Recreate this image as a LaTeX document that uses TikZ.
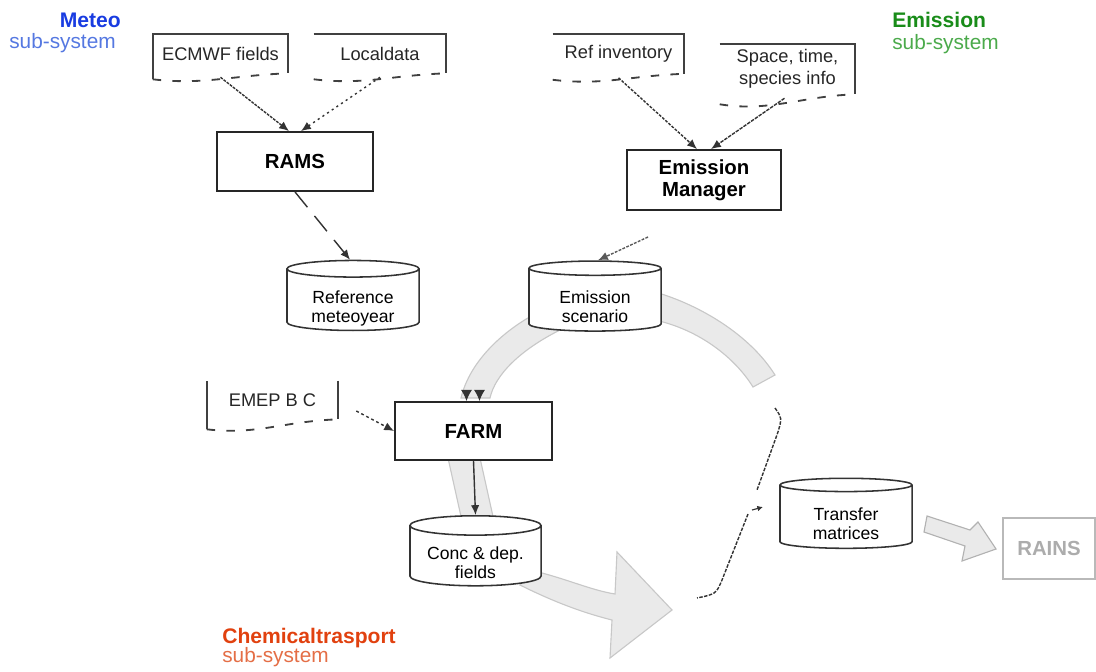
\documentclass[tikz,border=0pt]{standalone}
\usepackage{fontspec}
\setmainfont{Liberation Sans}
\usetikzlibrary{shapes.geometric, arrows.meta}

\definecolor{meteoblue}{RGB}{25,60,225}
\definecolor{meteolight}{RGB}{85,120,225}
\definecolor{emisgreen}{RGB}{25,140,25}
\definecolor{emislight}{RGB}{75,170,75}
\definecolor{chemred}{RGB}{225,65,15}
\definecolor{chemlight}{RGB}{228,110,70}
\definecolor{ringfill}{RGB}{234,234,234}
\definecolor{ringline}{RGB}{200,200,200}

\newcommand{\storelabel}[1]{\raisebox{-9.5pt}[0pt][0pt]{\begin{tabular}{@{}c@{}}#1\end{tabular}}}

\begin{document}
\begin{tikzpicture}[x=0.025cm, y=-0.025cm, >={Latex[length=7pt,width=6pt]},
    model/.style={draw=black!85, line width=1.3pt, fill=white, align=center,
        font=\fontsize{14.5}{15.6}\selectfont\bfseries},
    store/.style={cylinder, shape border rotate=90, aspect=0.2, draw=black!80,
        line width=1.1pt, fill=white, inner sep=0pt,
        minimum width=3.3cm, minimum height=1.75cm,
        font=\fontsize{12.5}{13.5}\selectfont},
    source/.style={inner sep=0pt, align=center, text=black!85,
        font=\fontsize{13}{15.6}\selectfont},
    docedge/.style={draw=black!75, line width=1.3pt},
    docwave/.style={docedge, dash pattern=on 6pt off 8pt},
    systitle/.style={inner sep=0pt, anchor=base west, font=\fontsize{15}{17}\selectfont\bfseries},
    syssub/.style={inner sep=0pt, anchor=base west, font=\fontsize{14.8}{17}\selectfont},
    ring/.style={fill=ringfill, draw=ringline, line width=0.8pt},
    link/.style={->, line width=1pt, black!80},
]
\useasboundingbox (0,0) rectangle (1096,671);

% sub-system titles
\node[systitle, anchor=base east, text=meteoblue] (meteo) at (121,27) {Meteo};
\node[syssub, text=meteolight] (meteosub) at (9,48) {sub-system};
\node[systitle, text=emisgreen] (emis) at (892,27) {Emission};
\node[syssub, text=emislight] (emissub) at (892,49) {sub-system};
\node[systitle, text=chemred] (chem) at (222,643) {Chemicaltrasport};
\node[syssub, text=chemlight] (chemsub) at (222,662) {sub-system};

% grey cycle
\filldraw[ring] (535,314) .. controls (505,330) and (470,360) .. (461,398)
    -- (490,398) .. controls (495,375) and (520,350) .. (560,330) -- cycle;
\filldraw[ring] (655,292) .. controls (700,305) and (750,335) .. (775,375)
    -- (753,387) .. controls (735,358) and (700,330) .. (655,320) -- cycle;
\filldraw[ring] (448,458) -- (480,458) -- (494,521) -- (462,521) -- cycle;
\filldraw[ring] (530,570) .. controls (565,578) and (590,590) .. (615,594)
    -- (617,552) -- (672,610) -- (610,658) -- (612,620)
    .. controls (580,612) and (550,600) .. (520,585) -- cycle;
\filldraw[ring, draw=gray!60] (927,516) -- (970,530) -- (978,522) -- (996,549)
    -- (962,561) -- (965,546) -- (924,532) -- cycle;

% input data
\node[source, minimum width=3.375cm, minimum height=0.975cm] (ecmwf) at (220.5,53.5) {ECMWF fields};
\node[source, minimum width=3.3cm, minimum height=0.975cm] (local) at (380,53.5) {Localdata};
\node[source, minimum width=3.275cm, minimum height=0.975cm] (refinv) at (618.5,54) {Ref inventory};
\node[source, minimum width=3.375cm, minimum height=1.25cm] (space) at (787.5,69) {Space, time,\\species info};
\node[source, minimum width=3.275cm, minimum height=0.95cm] (emep) at (272.5,400) {EMEP B C};

\draw[docedge] (ecmwf.south west) ++(0,6) -- (ecmwf.north west) -- (ecmwf.north east) -- (ecmwf.south east);
\draw[docwave] ([shift={(0,6)}]ecmwf.south west) .. controls +(50,6) and +(-55,2) .. (ecmwf.south east);
\draw[docedge] (local.north west) -- (local.north east) -- (local.south east);
\draw[docwave] ([shift={(0,6)}]local.south west) .. controls +(50,6) and +(-55,2) .. (local.south east);
\draw[docedge] (refinv.north west) -- (refinv.north east) -- (refinv.south east);
\draw[docwave] ([shift={(0,6)}]refinv.south west) .. controls +(50,6) and +(-55,2) .. (refinv.south east);
\draw[docedge] (space.north west) -- (space.north east) -- (space.south east);
\draw[docwave] ([shift={(0,10)}]space.south west) .. controls +(50,8) and +(-55,2) .. (space.south east);
\draw[docedge] ([shift={(0,10)}]emep.south west) -- (emep.north west);
\draw[docedge] (emep.north east) -- (emep.south east);
\draw[docwave] ([shift={(0,10)}]emep.south west) .. controls +(50,6) and +(-55,2) .. (emep.south east);

% models
\node[model, minimum width=3.9cm, minimum height=1.475cm] (rams) at (295,161.5) {RAMS};
\node[model, minimum width=3.85cm, minimum height=1.5cm] (manager) at (704,180) {Emission\\Manager};
\node[model, minimum width=3.925cm, minimum height=1.45cm] (farm) at (473.5,431) {FARM};
\node[model, draw=gray!55, text=gray!65, minimum width=2.3cm, minimum height=1.525cm] (rains) at (1049,548.5) {RAINS};

% data stores
\node[store] (meteoyear) at (353,300) {\storelabel{Reference\\meteoyear}};
\node[store] (scenario) at (595,300) {\storelabel{Emission\\scenario}};
\node[store, minimum width=3.275cm] (conc) at (475.5,556) {\storelabel{Conc \& dep.\\fields}};
\node[store] (transfer) at (846,517) {\storelabel{Transfer\\matrices}};

% links
\draw[link, dash pattern=on 2pt off 0.8pt] (ecmwf.south) ++(0,4) -- ([shift={(-6,0)}]rams.north);
\draw[link, dash pattern=on 1.5pt off 2.5pt] (local.south) ++(0,4) -- ([shift={(6,0)}]rams.north);
\draw[link, dash pattern=on 2pt off 1pt] (refinv.south) ++(0,4) -- ([shift={(-7,0)}]manager.north);
\draw[link, dash pattern=on 2.5pt off 0.8pt] (space.south) ++(-3,4) -- ([shift={(7,0)}]manager.north);
\draw[link, dash pattern=on 14pt off 8pt] (rams.south) -- ([shift={(-3,0)}]meteoyear.north);
\coordinate (emisin) at (648,237);
\draw[link, black!65, dash pattern=on 2pt off 1pt] (emisin) -- ([shift={(3,0)}]scenario.north);
\draw[link, dash pattern=on 2pt off 2pt] ([shift={(18,11)}]emep.east) -- (farm.west);
\draw[link, >={Latex[length=8pt,width=8pt]}] ([shift={(-7,-11)}]farm.north) -- ([shift={(-7,0)}]farm.north);
\draw[link, >={Latex[length=8pt,width=8pt]}] ([shift={(6,-11)}]farm.north) -- ([shift={(6,0)}]farm.north);
\draw[link] (farm.south) -- (conc.north);

% dotted return path
\draw[line width=1pt, black!80, dash pattern=on 2.5pt off 1pt] (775,408) .. controls (782,418) .. (778,432) -- (757,490);
\draw[line width=1pt, black!80, dash pattern=on 2.5pt off 1pt] (748,514) -- (722,580) .. controls (716,594) .. (697,598);
\coordinate (branch) at (752,510);
\draw[->, >={Latex[length=4pt,width=4pt]}, line width=0.8pt, black!80] (branch) -- ++(11,-3);
\end{tikzpicture}
\end{document}
